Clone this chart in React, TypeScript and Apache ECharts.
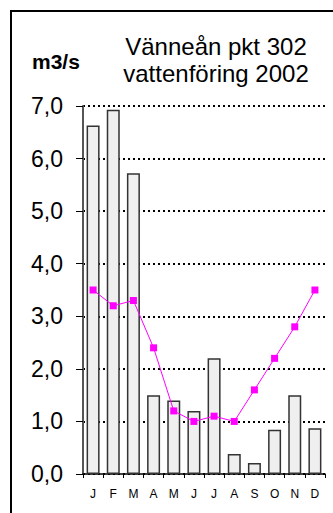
import React, { useEffect, useRef } from "react";
import * as echarts from "echarts";

const months = ["J", "F", "M", "A", "M", "J", "J", "A", "S", "O", "N", "D"];
const flow2002 = [6.63, 6.93, 5.72, 1.5, 1.4, 1.2, 2.2, 0.38, 0.21, 0.84, 1.5, 0.87];
const flowMean = [3.5, 3.2, 3.3, 2.4, 1.2, 1.0, 1.1, 1.0, 1.6, 2.2, 2.8, 3.5];
const titleLines = ["Vänneån pkt 302", "vattenföring 2002"];
const unitLabel = "m3/s";

const FONT = "'Liberation Sans', Arial, sans-serif";

export default function App() {
  const ref = useRef<HTMLDivElement>(null);
  useEffect(() => {
    if (!ref.current) return;
    const chart = echarts.init(ref.current, null, { renderer: "svg" });
    chart.setOption({
      animation: false,
      backgroundColor: "#ffffff",
      title: [
        {
          text: titleLines.join("\n"),
          left: 216,
          top: 33,
          padding: 0,
          textAlign: "center",
          textStyle: {
            fontFamily: FONT,
            fontSize: 24,
            lineHeight: 27,
            fontWeight: "normal",
            color: "#000",
          },
        },
        {
          text: unitLabel,
          left: 32,
          top: 51,
          padding: 0,
          textStyle: {
            fontFamily: FONT,
            fontSize: 21,
            fontWeight: "bold",
            color: "#000",
          },
        },
      ],
      graphic: [
        {
          type: "rect",
          shape: { x: 11, y: 11, width: 400, height: 600 },
          style: { fill: "none", stroke: "#000", lineWidth: 2 },
          silent: true,
        },
      ],
      grid: { left: 83, right: 8, top: 106, bottom: 39, containLabel: false },
      xAxis: {
        type: "category",
        data: months,
        axisLine: { show: true, lineStyle: { color: "#000", width: 1.5 } },
        axisTick: { show: true, alignWithLabel: false, length: 4, lineStyle: { color: "#000" } },
        axisLabel: { fontFamily: FONT, fontSize: 12, color: "#000", margin: 14 },
      },
      yAxis: {
        type: "value",
        min: 0,
        max: 7,
        interval: 1,
        axisLine: { show: true, lineStyle: { color: "#555", width: 2 } },
        axisTick: { show: true, length: 7, lineStyle: { color: "#000" } },
        axisLabel: {
          fontFamily: FONT,
          fontSize: 23,
          color: "#000",
          margin: 20,
          formatter: (v: number) => v.toFixed(1).replace(".", ","),
        },
        splitLine: {
          show: true,
          lineStyle: { color: "#000", width: 2, type: [2, 3] },
        },
      },
      series: [
        {
          type: "bar",
          data: flow2002,
          barWidth: 13,
          itemStyle: { color: "#efefef", borderColor: "#333", borderWidth: 1.5 },
        },
        {
          type: "line",
          data: flowMean,
          symbol: "rect",
          symbolSize: 7,
          lineStyle: { color: "#ff00ff", width: 1 },
          itemStyle: { color: "#ff00ff" },
        },
      ],
    });
    return () => chart.dispose();
  }, []);
  return (
    <div
      ref={ref}
      style={{ position: "fixed", left: 0, top: 0, width: 333, height: 513 }}
    />
  );
}
